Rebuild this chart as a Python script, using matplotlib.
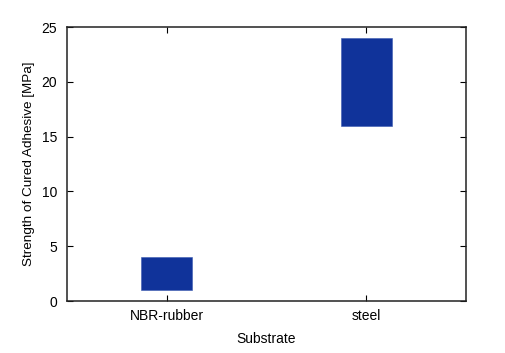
import matplotlib
matplotlib.use("Agg")
import matplotlib.pyplot as plt

categories = ["NBR-rubber", "steel"]
low = [1, 16]
high = [4, 24]

plt.rcParams['font.family'] = ['Liberation Sans', 'DejaVu Sans']
fig = plt.figure(figsize=(5.06, 3.53), dpi=100)
ax = fig.add_axes([0.1324, 0.1473, 0.921 - 0.1324, 0.9235 - 0.1473])

x = list(range(len(categories)))
heights = [h - l for h, l in zip(high, low)]
ax.bar(x, heights, bottom=low, width=0.255, color='#10339a', edgecolor='#3a5ab0', linewidth=0.4)

ax.set_xlim(-0.5, 1.5)
ax.set_ylim(0, 25)
ax.set_xticks(x)
ax.set_xticklabels(categories)
ax.set_yticks([0, 5, 10, 15, 20, 25])
ax.tick_params(direction='in', top=True, right=True, length=4, width=0.8, labelsize=10, colors='black')
ax.tick_params(axis='y', pad=7)
ax.tick_params(axis='x', pad=6)
for s in ax.spines.values():
    s.set_linewidth(1.1)
    s.set_color('#222222')
ax.set_xlabel("Substrate", fontsize=10, labelpad=6)
ax.set_ylabel("Strength of Cured Adhesive [MPa]", fontsize=9.7, labelpad=5)

fig.savefig("out.png", dpi=100)
